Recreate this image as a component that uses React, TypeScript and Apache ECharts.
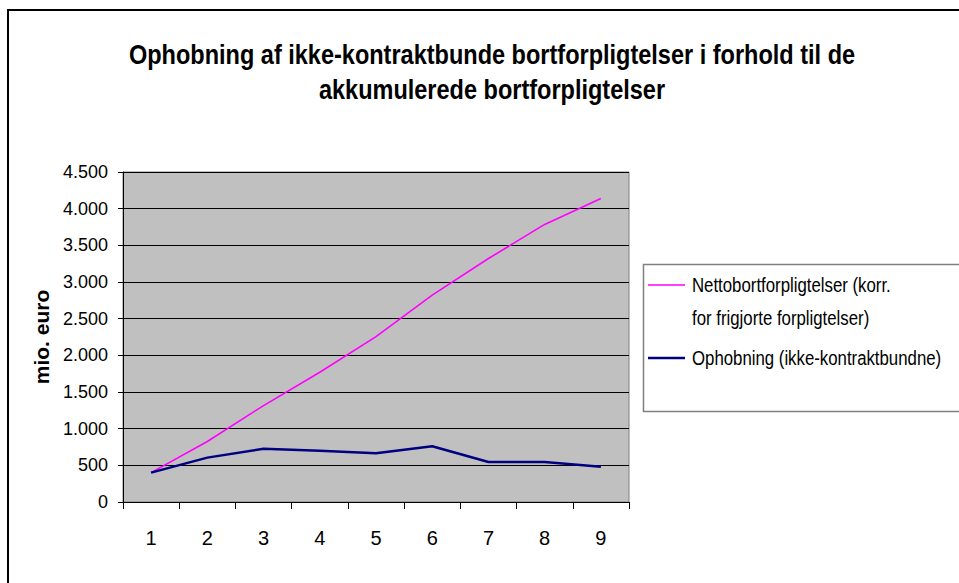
import React, { useEffect, useRef } from "react";
import * as echarts from "echarts";

const categories = ["1", "2", "3", "4", "5", "6", "7", "8", "9"];
const nettoValues = [400, 825, 1315, 1770, 2255, 2820, 3320, 3785, 4140];
const ophobningValues = [400, 605, 725, 700, 665, 760, 545, 545, 480];
const titleLines = [
  "Ophobning af ikke-kontraktbunde bortforpligtelser i forhold til de",
  "akkumulerede bortforpligtelser",
];
const seriesNames = [
  "Nettobortforpligtelser (korr. for frigjorte forpligtelser)",
  "Ophobning (ikke-kontraktbundne)",
];
const legendLines = [
  "Nettobortforpligtelser (korr.",
  "for frigjorte forpligtelser)",
  "Ophobning (ikke-kontraktbundne)",
];
const yAxisName = "mio. euro";

const FONT = "'Liberation Sans', Arial, sans-serif";

function fmt(v: number): string {
  const s = String(Math.round(v));
  return s.replace(/\B(?=(\d{3})+(?!\d))/g, ".");
}

export default function App() {
  const ref = useRef<HTMLDivElement>(null);
  useEffect(() => {
    if (!ref.current) return;
    const chart = echarts.init(ref.current, undefined, { renderer: "svg" });
    chart.setOption({
      animation: false,
      backgroundColor: "#ffffff",
      grid: {
        left: 123,
        top: 172,
        right: 330,
        bottom: 81,
        show: true,
        backgroundColor: "#c0c0c0",
        borderColor: "#808080",
        borderWidth: 1,
      },
      xAxis: {
        type: "category",
        data: categories,
        boundaryGap: true,
        axisLine: { show: true, lineStyle: { color: "#000", width: 1 } },
        axisTick: { show: true, length: 7, lineStyle: { color: "#000" } },
        axisLabel: { color: "#000", fontSize: 20, fontFamily: FONT, margin: 26 },
      },
      yAxis: {
        type: "value",
        min: 0,
        max: 4500,
        interval: 500,
        name: yAxisName,
        nameLocation: "middle",
        nameRotate: 90,
        nameGap: 62,
        nameTextStyle: { color: "#000", fontSize: 21, fontWeight: "bold", fontFamily: FONT },
        axisLine: { show: true, lineStyle: { color: "#000", width: 1 } },
        axisTick: { show: true, length: 5, lineStyle: { color: "#000" } },
        axisLabel: {
          color: "#000",
          fontSize: 18,
          fontFamily: FONT,
          margin: 15,
          formatter: (v: number) => fmt(v),
        },
        splitLine: { show: true, lineStyle: { color: "#000", width: 1 } },
      },
      series: [
        {
          name: seriesNames[0],
          type: "line",
          data: nettoValues,
          symbol: "none",
          lineStyle: { color: "#ff00ff", width: 1.6 },
          itemStyle: { color: "#ff00ff" },
        },
        {
          name: seriesNames[1],
          type: "line",
          data: ophobningValues,
          symbol: "none",
          lineStyle: { color: "#000080", width: 2.5 },
          itemStyle: { color: "#000080" },
        },
      ],
      graphic: [
        {
          type: "rect",
          shape: { x: 8, y: 10, width: 2000, height: 2000 },
          style: { fill: "none", stroke: "#000", lineWidth: 2 },
          silent: true,
        },
        {
          type: "text",
          x: 492,
          y: 54,
          scaleX: 0.84,
          style: {
            text: titleLines[0],
            textAlign: "center",
            textVerticalAlign: "middle",
            font: `bold 28px ${FONT}`,
            fill: "#000",
          },
        },
        {
          type: "text",
          x: 492,
          y: 89,
          scaleX: 0.84,
          style: {
            text: titleLines[1],
            textAlign: "center",
            textVerticalAlign: "middle",
            font: `bold 28px ${FONT}`,
            fill: "#000",
          },
        },
        {
          type: "rect",
          shape: { x: 643.5, y: 264.5, width: 600, height: 147 },
          style: { fill: "#fff", stroke: "#808080", lineWidth: 1.5 },
        },
        {
          type: "line",
          shape: { x1: 648, y1: 285, x2: 685, y2: 285 },
          style: { stroke: "#ff00ff", lineWidth: 1.6 },
        },
        {
          type: "line",
          shape: { x1: 648, y1: 358, x2: 685, y2: 358 },
          style: { stroke: "#000080", lineWidth: 2.5 },
        },
        {
          type: "text",
          x: 692,
          y: 285,
          scaleX: 0.8,
          style: { text: legendLines[0], textAlign: "left", textVerticalAlign: "middle", font: `21px ${FONT}`, fill: "#000" },
        },
        {
          type: "text",
          x: 692,
          y: 318,
          scaleX: 0.8,
          style: { text: legendLines[1], textAlign: "left", textVerticalAlign: "middle", font: `21px ${FONT}`, fill: "#000" },
        },
        {
          type: "text",
          x: 692,
          y: 358,
          scaleX: 0.8,
          style: { text: legendLines[2], textAlign: "left", textVerticalAlign: "middle", font: `21px ${FONT}`, fill: "#000" },
        },
      ],
    });
    return () => chart.dispose();
  }, []);
  return (
    <div
      ref={ref}
      style={{ position: "fixed", left: 0, top: 0, width: 959, height: 583, background: "#fff" }}
    />
  );
}
